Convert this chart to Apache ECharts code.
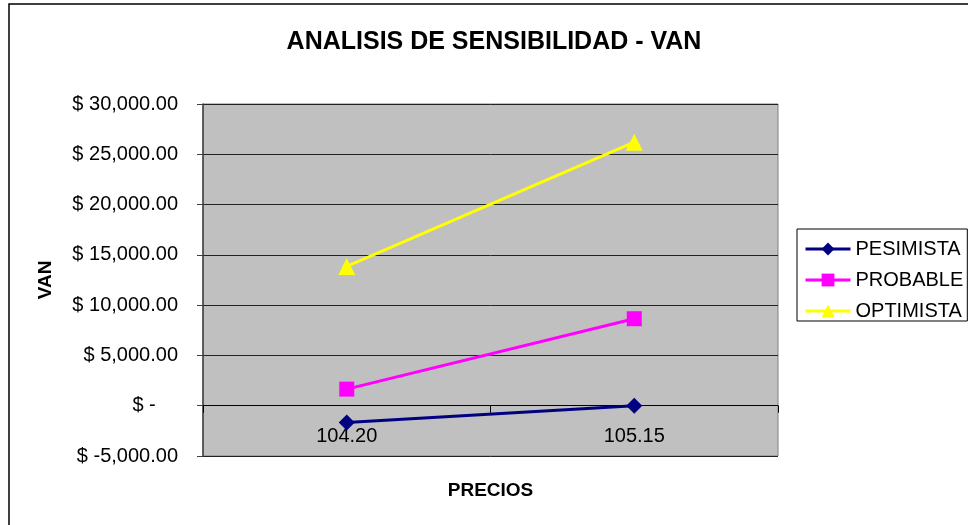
<!DOCTYPE html>
<html>
<head>
<meta charset="utf-8">
<script src="https://cdn.jsdelivr.net/npm/echarts@6/dist/echarts.min.js"></script>
<style>html,body{margin:0;padding:0;background:#fff}#c{width:968px;height:525px}</style>
</head>
<body>
<div id="c"></div>
<script>
const categories = ['104.20', '105.15'];
const pesimista = [-1680, 0];
const probable = [1650, 8650];
const optimista = [13850, 26200];
const seriesNames = ['PESIMISTA', 'PROBABLE', 'OPTIMISTA'];

const FONT = '"Liberation Sans", Arial, sans-serif';
function fmt(v) {
  if (v === 0) return '$ -\u00a0\u00a0\u00a0\u00a0';
  const a = Math.abs(v).toFixed(2).replace(/\B(?=(\d{3})+(?!\d))/g, ',');
  return '$ ' + (v < 0 ? '-' : '') + a;
}
const chart = echarts.init(document.getElementById('c'), null, {renderer: 'canvas'});
chart.setOption({
  backgroundColor: '#fff',
  animation: false,
  title: {
    text: 'ANALISIS DE SENSIBILIDAD - VAN',
    left: 489, top: 25, textAlign: 'center',
    textStyle: {fontFamily: FONT, fontSize: 25, fontWeight: 'bold', color: '#000'}
  },
  graphic: [{
    type: 'rect', shape: {x: 9, y: 4, width: 1000, height: 600},
    style: {fill: null, stroke: '#000', lineWidth: 1.5}, silent: true
  }],
  legend: {
    orient: 'vertical', left: 797, top: 229,
    data: seriesNames,
    itemWidth: 45, itemHeight: 16, itemGap: 11,
    padding: [10, 4, 0, 7],
    borderColor: '#000', borderWidth: 1,
    lineStyle: {width: 3},
    textStyle: {fontFamily: FONT, fontSize: 20, color: '#000', lineHeight: 20}
  },
  grid: {
    left: 203, right: 190, top: 104, bottom: 69,
    show: true, backgroundColor: '#C0C0C0', borderColor: '#808080', borderWidth: 1,
    containLabel: false, outerBoundsMode: 'none'
  },
  xAxis: {
    type: 'category', data: categories, boundaryGap: true,
    name: 'PRECIOS', nameLocation: 'middle', nameGap: 25,
    nameTextStyle: {fontFamily: FONT, fontSize: 19, fontWeight: 'bold', color: '#000'},
    axisLine: {onZero: true, lineStyle: {color: '#000', width: 1}},
    axisTick: {show: true, length: 7, lineStyle: {color: '#000'}},
    axisLabel: {margin: -30, fontFamily: FONT, fontSize: 20, color: '#000'},
    splitLine: {show: false}
  },
  yAxis: {
    type: 'value', min: -5000, max: 30000, interval: 5000,
    name: 'VAN', nameLocation: 'middle', nameGap: 148, nameRotate: 90,
    nameTextStyle: {fontFamily: FONT, fontSize: 19, fontWeight: 'bold', color: '#000'},
    axisLine: {show: true, lineStyle: {color: '#404040', width: 1.5}},
    axisTick: {show: true, length: 6, lineStyle: {color: '#404040'}},
    axisLabel: {margin: 25, fontFamily: FONT, fontSize: 20, color: '#000', formatter: fmt},
    splitLine: {show: true, lineStyle: {color: '#222', width: 1}}
  },
  series: [
    {name: 'PESIMISTA', type: 'line', data: pesimista, symbol: 'diamond', symbolSize: 16,
     itemStyle: {color: '#000080'}, lineStyle: {color: '#000080', width: 3}},
    {name: 'PROBABLE', type: 'line', data: probable, symbol: 'rect', symbolSize: 15,
     itemStyle: {color: '#FF00FF'}, lineStyle: {color: '#FF00FF', width: 3}},
    {name: 'OPTIMISTA', type: 'line', data: optimista, symbol: 'triangle', symbolSize: 17,
     itemStyle: {color: '#FFFF00'}, lineStyle: {color: '#FFFF00', width: 3}}
  ]
});
</script>
</body>
</html>
